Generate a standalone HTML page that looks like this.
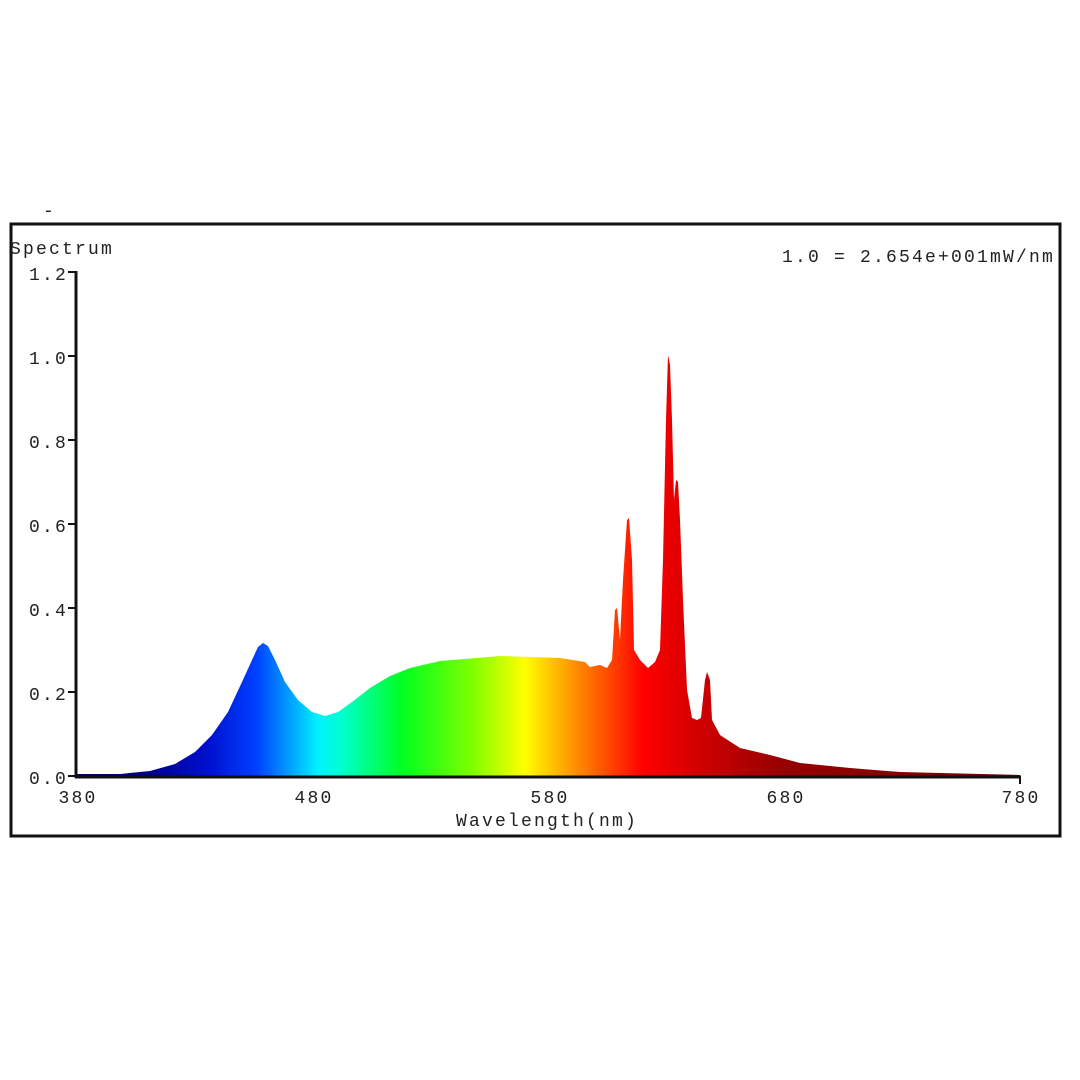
<!DOCTYPE html>
<html><head><style>body{margin:0;background:#fff}svg{display:block}</style></head><body>
<svg width="1080" height="1080" viewBox="0 0 1080 1080" xmlns="http://www.w3.org/2000/svg" font-family="Liberation Mono, monospace" font-size="18" letter-spacing="2.2" fill="#222">
<defs>
<linearGradient id="g" gradientUnits="userSpaceOnUse" x1="77" y1="0" x2="1020" y2="0">
<stop offset="0" stop-color="#000050"/>
<stop offset="0.08" stop-color="#000090"/>
<stop offset="0.14" stop-color="#0010d0"/>
<stop offset="0.19" stop-color="#0040ff"/>
<stop offset="0.22" stop-color="#0090ff"/>
<stop offset="0.255" stop-color="#00f0ff"/>
<stop offset="0.28" stop-color="#00ffd0"/>
<stop offset="0.345" stop-color="#00ff20"/>
<stop offset="0.42" stop-color="#80ff00"/>
<stop offset="0.475" stop-color="#ffff00"/>
<stop offset="0.52" stop-color="#ffa000"/>
<stop offset="0.56" stop-color="#ff5000"/>
<stop offset="0.6" stop-color="#ff0000"/>
<stop offset="0.67" stop-color="#c80000"/>
<stop offset="0.75" stop-color="#960000"/>
<stop offset="1" stop-color="#700000"/>
</linearGradient>
</defs>
<rect x="11" y="224" width="1049" height="612" fill="none" stroke="#111" stroke-width="3"/>
<text x="43" y="216">-</text>
<text x="10" y="254">Spectrum</text>
<text x="782" y="262">1.0 = 2.654e+001mW/nm</text>
<path fill="url(#g)" d="M77,776 L77,774 L120,774 L150,771 L175,764 L195,752 L212,735 L228,712 L242,682 L252,660 L258,647 L263,643 L268,646 L275,660 L285,682 L298,700 L312,712 L325,716 L338,712 L352,702 L370,688 L390,676 L410,668 L440,661 L500,656 L560,658 L585,662 L590,667 L600,665 L607,668 L612,660 L615,610 L617,608 L620,640 L623,580 L627,520 L629,518 L632,560 L634,650 L640,660 L648,668 L655,662 L660,650 L663,560 L666,420 L668,355 L670,365 L672,420 L674,500 L676,480 L678,482 L680,520 L683,600 L687,690 L692,718 L697,720 L701,718 L705,680 L707,672 L710,680 L712,720 L720,735 L740,748 L770,755 L800,763 L850,768 L900,772 L1020,775 L1020,776 Z"/>
<g stroke="#111" stroke-width="3">
<line x1="76" y1="271" x2="76" y2="778"/>
<line x1="75" y1="777" x2="1021" y2="777"/>
</g>
<g stroke="#111" stroke-width="2">
<line x1="68" y1="272" x2="76" y2="272"/>
<line x1="68" y1="356" x2="76" y2="356"/>
<line x1="68" y1="440" x2="76" y2="440"/>
<line x1="68" y1="524" x2="76" y2="524"/>
<line x1="68" y1="608" x2="76" y2="608"/>
<line x1="68" y1="692" x2="76" y2="692"/>
<line x1="68" y1="776" x2="76" y2="776"/>
<line x1="1020" y1="776" x2="1020" y2="784"/>
</g>
<g text-anchor="end">
<text x="68" y="280">1.2</text>
<text x="68" y="364">1.0</text>
<text x="68" y="448">0.8</text>
<text x="68" y="532">0.6</text>
<text x="68" y="616">0.4</text>
<text x="68" y="700">0.2</text>
<text x="68" y="784">0.0</text>
</g>
<g text-anchor="middle">
<text x="78" y="803">380</text>
<text x="314" y="803">480</text>
<text x="550" y="803">580</text>
<text x="786" y="803">680</text>
<text x="1021" y="803">780</text>
<text x="547" y="826">Wavelength(nm)</text>
</g>
</svg>
</body></html>
